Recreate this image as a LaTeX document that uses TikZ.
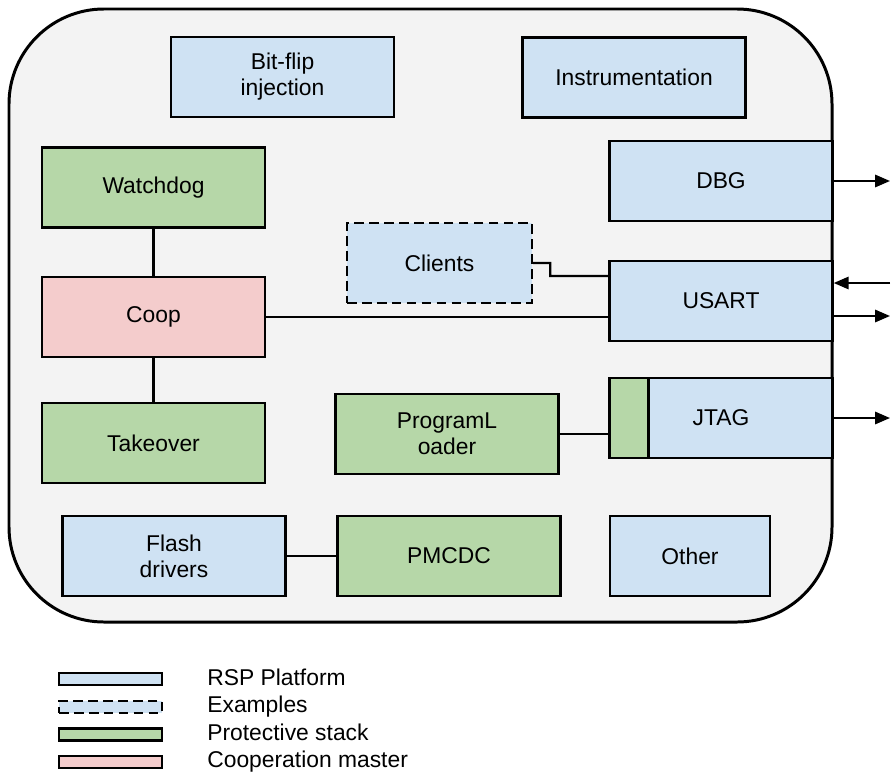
\documentclass[tikz,border=0pt]{standalone}
\usepackage{fontspec}
\setmainfont{Liberation Sans}
\usepackage{xcolor}
\usepackage{tikz}
\usetikzlibrary{arrows.meta}

\definecolor{rspblue}{HTML}{CFE2F3}
\definecolor{protgreen}{HTML}{B6D7A8}
\definecolor{cooppink}{HTML}{F4CCCC}
\definecolor{bggray}{HTML}{F3F3F3}

\begin{document}
\begin{tikzpicture}[x=0.02cm,y=-0.02cm,
  box/.style={draw,line width=1.4pt,minimum width=4.46cm,minimum height=1.6cm,
    align=center,inner sep=0pt,font=\fontsize{13}{14.7}\selectfont},
  rsp/.style={box,fill=rspblue},
  prot/.style={box,fill=protgreen},
  master/.style={box,fill=cooppink},
  example/.style={rsp,dash pattern=on 5.5pt off 3pt},
  link/.style={line width=1.25pt},
  io/.style={line width=1.25pt,-{Triangle[length=8.5pt,width=7pt]}},
  swatch/.style={draw,line width=1.4pt,minimum width=2.06cm,minimum height=0.24cm,inner sep=0pt},
  keytext/.style={anchor=base west,inner sep=0pt,font=\fontsize{13}{14.7}\selectfont}]
\useasboundingbox (0,0) rectangle (891,774);
\draw[line width=1.7pt,fill=bggray,rounded corners=1.9cm] (9,9) rectangle (832,622);

\node[rsp] (bitflip) at (282.5,77) {Bit-flip\\injection};
\node[rsp] (instr) at (634,77.5) {Instrumentation};
\node[prot] (watchdog) at (153.5,187.5) {Watchdog};
\node[master] (coop) at (153.5,317) {Coop};
\node[prot] (takeover) at (153.5,443) {Takeover};
\node[example,minimum width=3.7cm] (clients) at (439.5,263) {Clients};
\node[rsp] (dbg) at (721,181) {DBG};
\node[rsp] (usart) at (721,301) {USART};
\node[prot] (loader) at (447,434) {ProgramL\\oader};
\node[rsp] (jtag) at (721,418) {JTAG};
\node[prot,minimum width=0.78cm,anchor=west] (jtagport) at (jtag.west) {};
\node[rsp] (flash) at (174,556) {Flash\\drivers};
\node[prot] (pmcdc) at (449,556) {PMCDC};
\node[rsp,minimum width=3.2cm] (other) at (690,556) {Other};

\draw[link] (watchdog) -- (coop);
\draw[link] (coop) -- (takeover);
\draw[link] (coop.east) -- (coop.east -| usart.west);
\draw[link] (clients.east) -- ++(17,0) -- ++(0,13) -- ([yshift=0.5cm]usart.west);
\draw[link] (loader.east) -- (loader.east -| jtagport.west);
\draw[link] (flash) -- (pmcdc);

\coordinate (dbgtx) at (890,181);
\coordinate (usartrx) at (890,283);
\coordinate (usarttx) at (890,316);
\coordinate (jtagtx) at (890,418);
\draw[io] (dbg.east) -- (dbgtx);
\draw[io] (usartrx) -- (usartrx -| usart.east);
\draw[io] (usarttx -| usart.east) -- (usarttx);
\draw[io] (jtag.east) -- (jtagtx);

% legend
\node[swatch,fill=rspblue] (keyrsp) at (110.5,679) {};
\node[swatch,fill=rspblue,dash pattern=on 5.5pt off 3pt] (keyex) at (110.5,707) {};
\node[swatch,fill=protgreen] (keyprot) at (110.5,734.5) {};
\node[swatch,fill=cooppink] (keycoop) at (110.5,762) {};
\node[keytext] (keyrsptext) at (207,685) {RSP Platform};
\node[keytext] (keyextext) at (207,712.5) {Examples};
\node[keytext] (keyprottext) at (207,740) {Protective stack};
\node[keytext] (keycooptext) at (207,767.5) {Cooperation master};
\end{tikzpicture}
\end{document}
